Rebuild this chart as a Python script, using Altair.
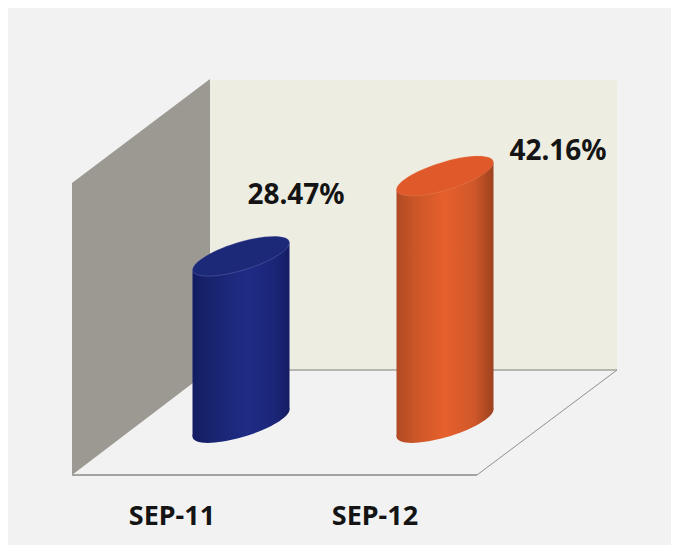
import altair as alt
import pandas as pd

# Chart values
categories = ["SEP-11", "SEP-12"]
values = [28.47, 42.16]
labels = ["28.47%", "42.16%"]

# Cylinder centres and half width on the horizontal scale
centres = [241, 445]
half_width = 48.5
tilt = 2.32
label_x = [296, 558]
label_y = [38.7, 46.2]
cat_x = [172, 375]
cat_y = -16.0

# Box geometry, in scale units
back_x = [210, 617]
back_top = 58.5
back_bottom = 9.04
side_x = [72, 210]
side_top = [40.96, 58.7]
side_bottom = [-8.87, 9.04]
floor_front = ([72, 477], [-8.87, -8.87])
floor_back = ([210, 617], [9.04, 9.04])
floor_right = ([477, 617], [-8.87, 9.04])

ELLIPSE = ("M1 -.28 C1 -.446 .552 -.455 0 -.30 C-.552 -.145 -1 .114 -1 .28 "
           "C-1 .446 -.552 .455 0 .30 C.552 .145 1 -.114 1 -.28 Z")

gradients = [
    [(0, "#131c63"), (0.2, "#19246f"), (0.55, "#1f2c85"), (0.85, "#1b2678"), (1, "#141c62")],
    [(0, "#b04a24"), (0.2, "#cc5628"), (0.5, "#e6602c"), (0.8, "#d0572a"), (1, "#9c421f")],
]
top_colors = ["#1c2878", "#e0592a"]
top_strokes = ["#aab2dc", "#f4a67f"]

X = alt.Scale(domain=[8, 671], nice=False, zero=False)
Y = alt.Scale(domain=[-20.82, 70.82], nice=False, zero=False)


def x_enc(f="x"):
    return alt.X(f"{f}:Q", scale=X, axis=None)


def y_enc(f="y"):
    return alt.Y(f"{f}:Q", scale=Y, axis=None)


back = alt.Chart(pd.DataFrame({"x": back_x, "y": [back_top] * 2, "y2": [back_bottom] * 2})).mark_area(
    color="#EEEDE2", opacity=1
).encode(x=x_enc(), y=y_enc(), y2="y2:Q")

side = alt.Chart(pd.DataFrame({"x": side_x, "y": side_top, "y2": side_bottom})).mark_area(
    color="#9B9992", opacity=1
).encode(x=x_enc(), y=y_enc(), y2="y2:Q")


def edge(points, width, color):
    return alt.Chart(pd.DataFrame({"x": points[0], "y": points[1]})).mark_line(
        color=color, strokeWidth=width
    ).encode(x=x_enc(), y=y_enc())


layers = [
    back,
    side,
    edge(floor_back, 1.5, "#a5a49e"),
    edge(floor_front, 2, "#a3a3a0"),
    edge(floor_right, 1, "#8f8f8c"),
]

for i in range(len(values)):
    grad = alt.LinearGradient(
        gradient="linear", x1=0, x2=1, y1=0, y2=0,
        stops=[alt.GradientStop(offset=o, color=c) for o, c in gradients[i]],
    )
    body = pd.DataFrame({
        "x": [centres[i] - half_width, centres[i] + half_width],
        "y": [values[i] - tilt, values[i] + tilt],
        "y2": [-tilt, tilt],
    })
    layers.append(
        alt.Chart(pd.DataFrame({"x": [centres[i]], "y": [0]})).mark_point(
            shape=ELLIPSE, size=97 ** 2, filled=True, fill=grad, opacity=1, strokeWidth=0
        ).encode(x=x_enc(), y=y_enc())
    )
    layers.append(
        alt.Chart(body).mark_area(fill=grad, opacity=1).encode(x=x_enc(), y=y_enc(), y2="y2:Q")
    )
    layers.append(
        alt.Chart(pd.DataFrame({"x": [centres[i]], "y": [values[i]]})).mark_point(
            shape=ELLIPSE, size=97 ** 2, filled=True, fill=top_colors[i], opacity=1,
            stroke=top_strokes[i], strokeWidth=0.8, strokeOpacity=0.3
        ).encode(x=x_enc(), y=y_enc())
    )

text_font = dict(font="Noto Sans", fontWeight="bold", color="#141414", align="center", baseline="middle")

value_text = alt.Chart(pd.DataFrame({"x": label_x, "y": label_y, "t": labels})).mark_text(
    fontSize=28, **text_font
).encode(x=x_enc(), y=y_enc(), text="t:N")

cat_text = alt.Chart(pd.DataFrame({"x": cat_x, "y": [cat_y] * 2, "t": categories})).mark_text(
    fontSize=27, **text_font
).encode(x=x_enc(), y=y_enc(), text="t:N")

layers += [value_text, cat_text]

chart = alt.layer(*layers).properties(
    width=663, height=537, padding=0, autosize=alt.AutoSizeParams(type="none")
).configure_view(fill="#F2F2F2", stroke=None)

chart.save("out.html", embed_options={"renderer": "svg", "actions": False})
